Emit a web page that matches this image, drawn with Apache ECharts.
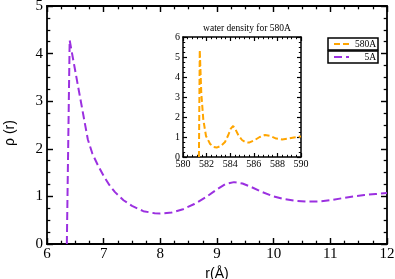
<!DOCTYPE html>
<html>
<head>
<meta charset="utf-8">
<script src="https://cdn.jsdelivr.net/npm/echarts@6/dist/echarts.min.js"></script>
<style>html,body{margin:0;padding:0;background:#fff}#c{width:395px;height:279px}</style>
</head>
<body>
<div id="c"></div>
<script>
// Main curve (5A)
var mainX = [6.35, 6.40, 6.55, 6.72, 6.80, 6.90, 7.00, 7.10, 7.20, 7.35, 7.50, 7.70, 7.90, 8.00, 8.20, 8.40, 8.60, 8.80, 9.00, 9.15, 9.30, 9.45, 9.60, 9.80, 10.0, 10.2, 10.4, 10.6, 10.8, 11.0, 11.2, 11.4, 11.6, 11.8, 12.0];
var mainY = [0, 4.28, 3.30, 2.20, 1.90, 1.65, 1.43, 1.24, 1.09, 0.92, 0.80, 0.69, 0.645, 0.64, 0.66, 0.73, 0.84, 0.98, 1.15, 1.26, 1.30, 1.27, 1.20, 1.09, 1.00, 0.94, 0.905, 0.89, 0.895, 0.92, 0.96, 1.00, 1.03, 1.05, 1.07];
// Inset curve (580A)
var insetX = [581.35, 581.42, 581.55, 581.72, 581.95, 582.3, 582.6, 582.85, 583.2, 583.56, 583.84, 584.05, 584.25, 584.45, 584.7, 585.0, 585.3, 585.6, 586.0, 586.5, 586.95, 587.4, 587.9, 588.4, 588.9, 589.4, 590.0];
var insetY = [0, 5.35, 3.2, 1.87, 1.05, 0.65, 0.5, 0.47, 0.55, 0.75, 1.1, 1.42, 1.55, 1.38, 1.08, 0.85, 0.74, 0.72, 0.82, 1.0, 1.1, 1.05, 0.92, 0.88, 0.92, 0.98, 1.02];
var seriesNames = ['580A', '5A'];
var insetTitle = 'water density for 580A';
var xName = 'r(Å)';
var yName = 'ρ (r)';

function pairs(xs, ys) { return xs.map(function (x, i) { return [x, ys[i]]; }); }

var serif = 'Liberation Serif';
var sans = 'Liberation Sans';
var black = '#000';

function axisBase(o) {
  var a = {
    type: 'value',
    min: o.min, max: o.max, interval: o.interval,
    gridIndex: o.grid,
    position: o.position,
    axisLine: { show: true, onZero: false, lineStyle: { color: black, width: o.lw } },
    axisTick: { show: true, inside: true, length: o.tl, lineStyle: { color: black, width: o.lw * 0.8 } },
    minorTick: { show: true, splitNumber: o.minor, length: o.tl * 0.55, lineStyle: { color: black, width: o.lw * 0.7 } },
    splitLine: { show: false },
    minorSplitLine: { show: false },
    axisLabel: o.label ? { show: true, color: black, fontFamily: serif, fontSize: o.fs, margin: o.margin, showMinLabel: true, showMaxLabel: true } : { show: false }
  };
  if (o.name) {
    a.name = o.name;
    a.nameLocation = 'middle';
    a.nameGap = o.nameGap;
    a.nameTextStyle = { fontFamily: sans, fontSize: 14, color: black, padding: o.namePad || 0 };
  }
  return a;
}

function legendBox(name, top) {
  return {
    data: [name], orient: 'vertical', left: 328, top: top,
    padding: [1, 2, 1, 5], itemWidth: 15, itemHeight: 8,
    borderColor: black, borderWidth: 1.5, backgroundColor: '#fff',
    itemStyle: { color: 'rgba(0,0,0,0)', borderColor: 'rgba(0,0,0,0)', borderWidth: 0 },
    formatter: '{a|{name}}',
    textStyle: { rich: { a: { width: 22, align: 'right', fontFamily: serif, fontSize: 9.5, color: black, lineHeight: 11 } } }
  };
}

var option = {
  animation: false,
  backgroundColor: '#fff',
  grid: [
    { left: 47, right: 8, top: 6, bottom: 35, containLabel: false, outerBoundsMode: 'none' },
    { left: 183, top: 37, width: 118, height: 120, backgroundColor: '#fff', show: true, borderWidth: 0, containLabel: false, outerBoundsMode: 'none' }
  ],
  title: {
    text: insetTitle, left: 242, top: 18, textAlign: 'center',
    textStyle: { fontFamily: serif, fontSize: 9.5, fontWeight: 'normal', color: black }
  },
  xAxis: [
    axisBase({ grid: 0, min: 6, max: 12, interval: 1, minor: 4, position: 'bottom', lw: 1.8, tl: 6, label: true, fs: 15, margin: 3, name: xName, nameGap: 17 }),
    axisBase({ grid: 0, min: 6, max: 12, interval: 1, minor: 4, position: 'top', lw: 1.8, tl: 6, label: false }),
    axisBase({ grid: 1, min: 580, max: 590, interval: 2, minor: 5, position: 'bottom', lw: 1.5, tl: 4, label: true, fs: 10, margin: 2 }),
    axisBase({ grid: 1, min: 580, max: 590, interval: 2, minor: 5, position: 'top', lw: 1.5, tl: 4, label: false })
  ],
  yAxis: [
    axisBase({ grid: 0, min: 0, max: 5, interval: 1, minor: 4, position: 'left', lw: 1.8, tl: 6, label: true, fs: 15, margin: 4, name: yName, nameGap: 30, namePad: [0, 16, 0, 0] }),
    axisBase({ grid: 0, min: 0, max: 5, interval: 1, minor: 4, position: 'right', lw: 1.8, tl: 6, label: false }),
    axisBase({ grid: 1, min: 0, max: 6, interval: 1, minor: 4, position: 'left', lw: 1.5, tl: 4, label: true, fs: 10, margin: 3 }),
    axisBase({ grid: 1, min: 0, max: 6, interval: 1, minor: 4, position: 'right', lw: 1.5, tl: 4, label: false })
  ],
  legend: [legendBox(seriesNames[0], 38), legendBox(seriesNames[1], 51)],
  series: [
    {
      name: seriesNames[0], type: 'line', xAxisIndex: 2, yAxisIndex: 2,
      data: pairs(insetX, insetY), symbol: 'none', smooth: false,
      color: '#ffa500',
      lineStyle: { color: '#ffa500', width: 2, type: [6, 3] }
    },
    {
      name: seriesNames[1], type: 'line', xAxisIndex: 0, yAxisIndex: 0,
      data: pairs(mainX, mainY), symbol: 'none', smooth: false,
      color: '#9b30e0',
      lineStyle: { color: '#9b30e0', width: 2, type: [8, 4] }
    }
  ]
};
var chart = echarts.init(document.getElementById('c'));
chart.setOption(option);
</script>
</body>
</html>
